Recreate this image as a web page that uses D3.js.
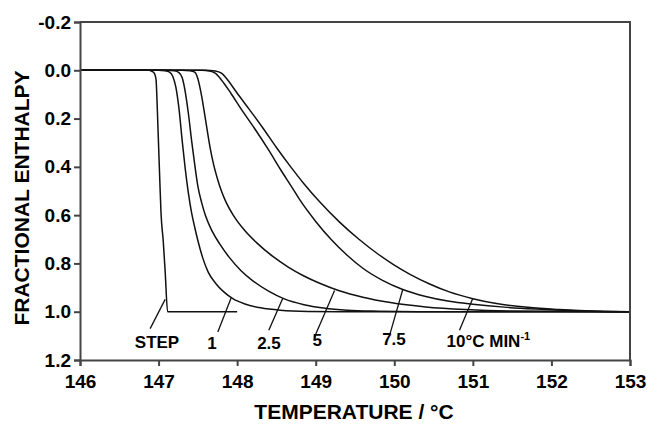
<!DOCTYPE html>
<html>
<head>
<meta charset="utf-8">
<script src="https://cdn.jsdelivr.net/npm/d3@7"></script>
<style>
  html, body { margin: 0; padding: 0; background: #fff; }
  svg { display: block; }
  text { font-family: "Liberation Sans", Arial, sans-serif; font-weight: bold; fill: #000; }
</style>
</head>
<body>
<svg id="chart" width="647" height="425"></svg>
<script>
// ---------- data ----------
const tempTicks = [146, 147, 148, 149, 150, 151, 152, 153];
const tempTickLabels = ["146", "147", "148", "149", "150", "151", "152", "153"];
const enthalpyTicks = [-0.2, 0.0, 0.2, 0.4, 0.6, 0.8, 1.0, 1.2];
const enthalpyTickLabels = ["-0.2", "0.0", "0.2", "0.4", "0.6", "0.8", "1.0", "1.2"];

const stepT = [146, 146.87, 146.92, 146.95, 146.968, 146.985, 147.0, 147.015, 147.031, 147.06, 147.085, 147.115, 148.0];
const stepH = [0, 0, 0.005, 0.015, 0.04, 0.17, 0.31, 0.45, 0.59, 0.71, 0.84, 1.0, 1.0];

const rate1T = [146, 147.0, 147.08, 147.14, 147.18, 147.22, 147.26, 147.3, 147.34, 147.38, 147.42, 147.46, 147.5, 147.56, 147.63, 147.72, 147.83, 147.95, 148.1, 148.3, 148.55, 148.9, 149.3, 153];
const rate1H = [0, 0, 0.002, 0.008, 0.025, 0.07, 0.16, 0.29, 0.41, 0.51, 0.59, 0.65, 0.705, 0.775, 0.835, 0.88, 0.918, 0.947, 0.968, 0.984, 0.994, 0.999, 1.0, 1.0];

const rate2p5T = [146, 147.1, 147.2, 147.26, 147.3, 147.34, 147.38, 147.42, 147.46, 147.5, 147.55, 147.6, 147.68, 147.78, 147.9, 148.05, 148.2, 148.4, 148.6, 148.85, 149.1, 149.4, 149.8, 150.3, 153];
const rate2p5H = [0, 0, 0.002, 0.01, 0.03, 0.09, 0.18, 0.29, 0.39, 0.48, 0.55, 0.605, 0.665, 0.72, 0.775, 0.83, 0.872, 0.915, 0.947, 0.971, 0.985, 0.994, 0.998, 1.0, 1.0];

const rate5T = [146, 147.3, 147.4, 147.46, 147.5, 147.55, 147.6, 147.65, 147.7, 147.75, 147.8, 147.85, 147.95, 148.1, 148.25, 148.45, 148.65, 148.85, 149.05, 149.3, 149.6, 149.95, 150.4, 150.9, 151.5, 153];
const rate5H = [0, 0, 0.002, 0.008, 0.035, 0.11, 0.21, 0.31, 0.39, 0.45, 0.5, 0.54, 0.6, 0.665, 0.715, 0.77, 0.815, 0.852, 0.882, 0.913, 0.94, 0.962, 0.98, 0.991, 0.997, 1.0];

const rate7p5T = [146, 147.55, 147.65, 147.72, 147.8, 147.924, 148.05, 148.22, 148.4, 148.55, 148.708, 148.794, 149.0, 149.2, 149.4, 149.6, 149.85, 150.1, 150.4, 150.7, 151.0, 151.4, 151.8, 152.3, 153];
const rate7p5H = [0, 0, 0.003, 0.012, 0.04, 0.097, 0.16, 0.24, 0.33, 0.41, 0.49, 0.535, 0.626, 0.702, 0.766, 0.82, 0.87, 0.907, 0.937, 0.957, 0.969, 0.981, 0.989, 0.996, 1.0];

const rate10T = [146, 147.6, 147.72, 147.8, 147.88, 147.99, 148.15, 148.33, 148.5, 148.67, 148.85, 149.05, 149.3, 149.55, 149.8, 150.0, 150.2, 150.45, 150.7, 151.0, 151.3, 151.7, 152.1, 152.6, 153];
const rate10H = [0, 0, 0.003, 0.012, 0.04, 0.09, 0.16, 0.24, 0.32, 0.395, 0.47, 0.545, 0.628, 0.70, 0.763, 0.807, 0.845, 0.885, 0.918, 0.946, 0.966, 0.982, 0.991, 0.998, 1.0];

// annotation labels and leader lines (data coordinates)
const labelTexts = ["STEP", "1", "2.5", "5", "7.5", "10°C MIN"];
const labelT = [146.98, 147.68, 148.405, 149.02, 149.996, 150.665];
const labelH = [1.152, 1.154, 1.154, 1.143, 1.139, 1.147];
const labelAnchor = ["middle", "middle", "middle", "middle", "middle", "start"];
const leaderFromT = [146.893, 147.754, 148.403, 148.985, 149.94, 150.83];
const leaderFromH = [1.070, 1.084, 1.077, 1.105, 1.098, 1.077];
const leaderToT = [147.084, 147.924, 148.581, 149.24, 150.108, 151.0];
const leaderToH = [0.949, 0.942, 0.944, 0.912, 0.908, 0.944];

// ---------- chart ----------
const svg = d3.select("#chart");
const plotLeft = 80, plotRight = 630, plotTop = 22, plotBottom = 360;

const x = d3.scaleLinear().domain([146, 153]).range([plotLeft, plotRight]);
const y = d3.scaleLinear().domain([-0.2, 1.2]).range([plotTop, plotBottom]);

const series = [
  [stepT, stepH], [rate1T, rate1H], [rate2p5T, rate2p5H],
  [rate5T, rate5H], [rate7p5T, rate7p5H], [rate10T, rate10H]
];

const line = d3.line()
  .x(d => x(d[0]))
  .y(d => y(d[1]))
  .curve(d3.curveMonotoneX);

svg.append("g").selectAll("path")
  .data(series.map(s => s[0].map((t, i) => [t, s[1][i]])))
  .join("path")
  .attr("d", line)
  .attr("fill", "none")
  .attr("stroke", "#111")
  .attr("stroke-width", 1.5)
  .attr("stroke-linejoin", "round");

// frame (top and right)
svg.append("path")
  .attr("d", `M${x(146)},${y(-0.2)}H${x(153)}V${y(1.2)}`)
  .attr("fill", "none")
  .attr("stroke", "#444")
  .attr("stroke-width", 2);

// x axis
const xAxis = svg.append("g")
  .attr("transform", `translate(0,${y(1.2)})`)
  .call(d3.axisBottom(x).tickValues(tempTicks)
    .tickFormat((d, i) => tempTickLabels[i]).tickSize(6).tickPadding(9));
xAxis.select(".domain").attr("stroke", "#444").attr("stroke-width", 2);
xAxis.selectAll(".tick line").attr("stroke", "#444").attr("stroke-width", 2);
xAxis.selectAll(".tick text")
  .style("font-family", '"Liberation Sans", Arial, sans-serif')
  .style("font-weight", "bold").style("font-size", "19px").attr("fill", "#000");

// y axis
const yAxis = svg.append("g")
  .attr("transform", `translate(${x(146)},0)`)
  .call(d3.axisLeft(y).tickValues(enthalpyTicks)
    .tickFormat((d, i) => enthalpyTickLabels[i]).tickSize(6).tickPadding(3));
yAxis.select(".domain").attr("stroke", "#444").attr("stroke-width", 2);
yAxis.selectAll(".tick line").attr("stroke", "#444").attr("stroke-width", 2);
yAxis.selectAll(".tick text")
  .style("font-family", '"Liberation Sans", Arial, sans-serif')
  .style("font-weight", "bold").style("font-size", "19px").attr("fill", "#000");

// axis titles
svg.append("text")
  .attr("x", (plotLeft + plotRight) / 2 - 1)
  .attr("y", 419)
  .attr("text-anchor", "middle")
  .style("font-size", "21px")
  .text("TEMPERATURE / °C");

svg.append("text")
  .attr("transform", `translate(29,${(plotTop + plotBottom) / 2 + 7}) rotate(-90)`)
  .attr("text-anchor", "middle")
  .style("font-size", "21px")
  .text("FRACTIONAL ENTHALPY");

// leaders
svg.append("g").selectAll("line")
  .data(labelTexts.map((t, i) => i))
  .join("line")
  .attr("x1", i => x(leaderFromT[i]))
  .attr("y1", i => y(leaderFromH[i]))
  .attr("x2", i => x(leaderToT[i]))
  .attr("y2", i => y(leaderToH[i]))
  .attr("stroke", "#111")
  .attr("stroke-width", 1.3);

// labels
const lab = svg.append("g").selectAll("text")
  .data(labelTexts.map((t, i) => i))
  .join("text")
  .attr("x", i => x(labelT[i]))
  .attr("y", i => y(labelH[i]))
  .attr("text-anchor", i => labelAnchor[i])
  .style("font-size", "17px")
  .text(i => labelTexts[i]);

lab.filter(i => i === labelTexts.length - 1)
  .append("tspan")
  .attr("dy", -7)
  .style("font-size", "11px")
  .text("-1");
</script>
</body>
</html>
